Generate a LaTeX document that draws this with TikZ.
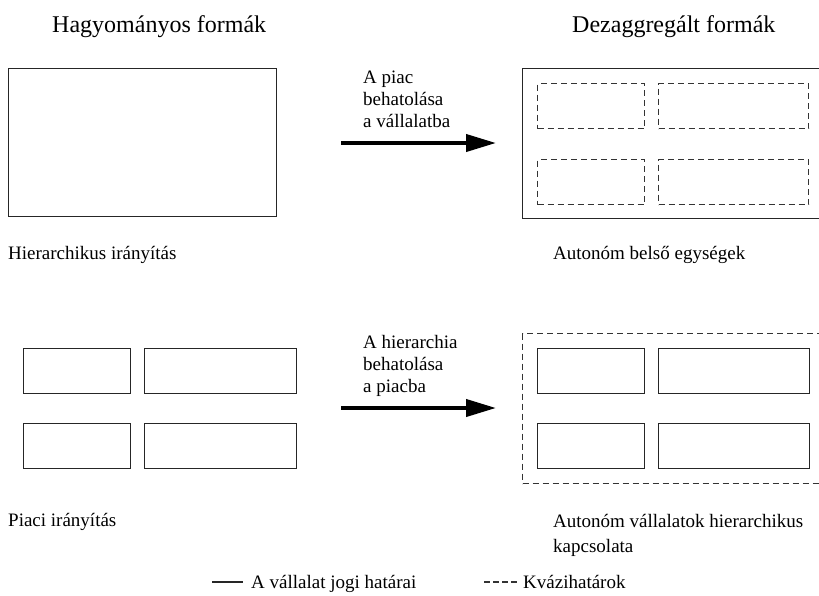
\documentclass[tikz,border=0pt]{standalone}
\usepackage{fontspec}
\setmainfont{Liberation Serif}
\usetikzlibrary{arrows.meta}

\newcommand{\bodyfont}{\fontsize{19}{22}\selectfont}
\newcommand{\titlefont}{\fontsize{24}{28}\selectfont}

\tikzset{
  jogi/.style={draw=black!85, line width=1.2pt, inner sep=0pt, anchor=north west},
  kvazi/.style={draw=black!80, line width=1.2pt, dash pattern=on 6pt off 4pt, inner sep=0pt, anchor=north west},
  felirat/.style={anchor=base west, inner sep=0pt, font=\bodyfont, align=left},
  cim/.style={anchor=base west, inner sep=0pt, font=\titlefont},
  hatas/.style={line width=4pt, -{Triangle[length=30pt,width=17pt]}}
}

\begin{document}
\begin{tikzpicture}[x=1pt, y=-1pt]
  \useasboundingbox (0,0) rectangle (819,595);
  \clip (0,0) rectangle (819,595);

  % cimek
  \node[cim] (hagy) at (52,32) {Hagyományos formák};
  \node[cim] (dez) at (572,32) {Dezaggregált formák};

  % felso sor
  \node[jogi, minimum width=268pt, minimum height=148pt] (hier) at (8,68) {};
  \node[jogi, minimum width=310pt, minimum height=150pt] (belso) at (522,68) {};
  \node[kvazi, minimum width=107pt, minimum height=45pt] (e1) at (537,83) {};
  \node[kvazi, minimum width=150pt, minimum height=45pt] (e2) at (658,83) {};
  \node[kvazi, minimum width=107pt, minimum height=45pt] (e3) at (537,159) {};
  \node[kvazi, minimum width=150pt, minimum height=45pt] (e4) at (658,159) {};

  \node[felirat] (piac) at (363,127) {A piac\\behatolása\\a vállalatba};
  \coordinate (a1) at (341,143);
  \coordinate (a2) at (496,143);
  \draw[hatas] (a1) -- (a2);

  \node[felirat] (hierl) at (8,259) {Hierarchikus irányítás};
  \node[felirat] (belsol) at (553,259) {Autonóm belső egységek};

  % also sor
  \node[jogi, minimum width=107pt, minimum height=45pt] (p1) at (23,348) {};
  \node[jogi, minimum width=152pt, minimum height=45pt] (p2) at (144,348) {};
  \node[jogi, minimum width=107pt, minimum height=45pt] (p3) at (23,423) {};
  \node[jogi, minimum width=152pt, minimum height=45pt] (p4) at (144,423) {};

  \node[kvazi, minimum width=310pt, minimum height=150pt] (halo) at (522,333) {};
  \node[jogi, minimum width=107pt, minimum height=45pt] (v1) at (537,348) {};
  \node[jogi, minimum width=151pt, minimum height=45pt] (v2) at (658,348) {};
  \node[jogi, minimum width=107pt, minimum height=45pt] (v3) at (537,423) {};
  \node[jogi, minimum width=151pt, minimum height=45pt] (v4) at (658,423) {};

  \node[felirat] (hiera) at (363,392) {A hierarchia\\behatolása\\a piacba};
  \coordinate (b1) at (341,408);
  \coordinate (b2) at (496,408);
  \draw[hatas] (b1) -- (b2);

  \node[felirat] (piacl) at (8,526) {Piaci irányítás};
  \node[felirat] (kapcs) at (553,552) {Autonóm vállalatok hierarchikus\\[3pt]kapcsolata};

  % jelmagyarazat
  \coordinate (j1) at (212,582);
  \coordinate (j2) at (243,582);
  \draw[black!85, line width=1.2pt] (j1) -- (j2);
  \node[felirat] (jogil) at (251,588) {A vállalat jogi határai};
  \coordinate (k1) at (484,582);
  \coordinate (k2) at (518,582);
  \draw[black!80, line width=1.2pt, dash pattern=on 6pt off 3pt] (k1) -- (k2);
  \node[felirat] (kvazil) at (523,588) {Kvázihatárok};
\end{tikzpicture}
\end{document}
